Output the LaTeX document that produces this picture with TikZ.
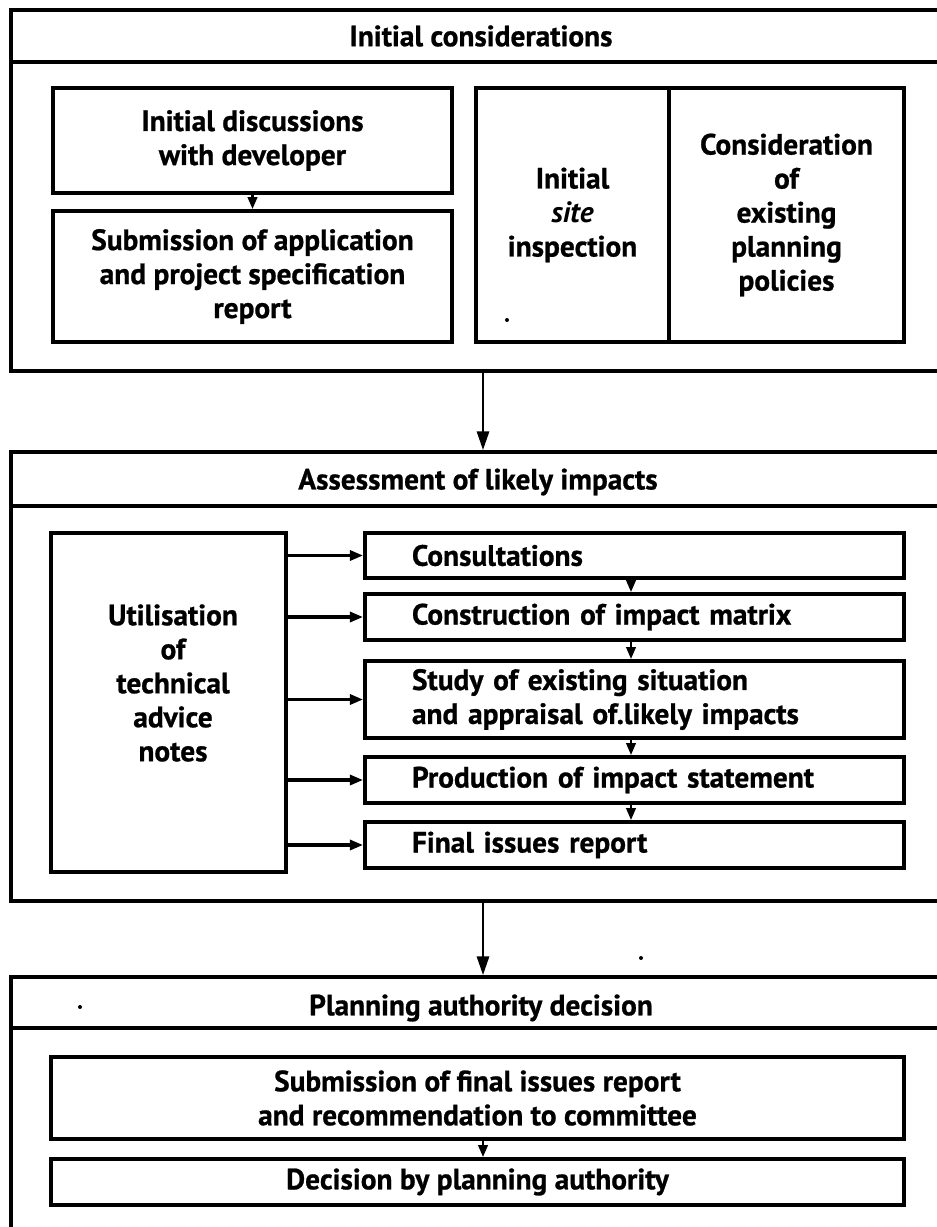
\documentclass[tikz,border=0pt]{standalone}
\usepackage{fontspec}
\setmainfont{PT Sans}[BoldFeatures={FakeBold=0.8}]
\usetikzlibrary{arrows.meta}
\begin{document}
\begin{tikzpicture}[x=0.75pt,y=-0.75pt,
  every node/.style={font=\fontsize{22}{25.5}\selectfont\bfseries},
  wh/.style 2 args={minimum width=#1*0.75pt, minimum height=#2*0.75pt},
  sect/.style={draw, line width=2.8pt, rectangle, inner sep=0pt},
  box/.style={draw, line width=2.8pt, rectangle, inner sep=0pt, align=center},
  lbl/.style={inner sep=0pt, align=center},
  rbox/.style={draw, line width=2.8pt, rectangle, inner xsep=35.25pt, inner ysep=0pt,
               text width=333.75pt, align=left, minimum height=#1*0.75pt},
  rule/.style={line width=2.8pt},
  flowarrow/.style={line width=2pt, -{Triangle[length=14pt,width=9pt]}},
  feedarrow/.style={line width=2.8pt, -{Triangle[length=10pt,width=7.5pt]}},
  joinarrow/.style={line width=2pt, -{Triangle[length=9pt,width=7pt]}},
  speck/.style={fill=black}
]
\useasboundingbox (0,0) rectangle (937,1227);
\fill[white] (0,0) rectangle (937,1227);
\clip (0,0) rectangle (937,1227);

% ---- Stage 1: initial considerations ----
\node[sect, wh={940}{361}] (S1) at (481,190.5) {};
\draw[rule] (S1.west |- 0,62) -- (S1.east |- 0,62);
\node[lbl] (S1t) at (481,36) {Initial considerations};
\node[box, wh={399}{105}] (dev) at (252.5,140.5) {Initial discussions\\with developer};
\node[box, wh={399}{131}] (sub) at (252.5,276.5) {Submission of application\\and project specification\\report};
\node[box, wh={193}{254}] (site) at (572.5,215) {Initial\\\textit{site}\\inspection};
\node[box, wh={235}{254}] (pol) at (786.5,215) {Consideration\\of\\existing\\planning\\policies};
\draw[joinarrow] (dev.south) -- (sub.north);
\fill[speck] (507,320) circle (1.5pt);

% ---- Stage 2: assessment of likely impacts ----
\node[sect, wh={940}{449}] (S2) at (481,676.5) {};
\draw[rule] (S2.west |- 0,506) -- (S2.east |- 0,506);
\node[lbl] (S2t) at (478,482) {Assessment of likely impacts};
\node[box, wh={235}{339}] (util) at (168.5,702.5) {};
\node[lbl] (utilt) at (173,683) {Utilisation\\of\\technical\\advice\\notes};
\node[rbox=45] (con) at (634.5,555.5) {Consultations};
\node[rbox=46] (mat) at (634.5,617) {Construction of impact matrix};
\node[rbox=77] (study) at (634.5,699.5) {Study of existing situation\\and appraisal of.likely impacts};
\node[rbox=46] (prod) at (634.5,780) {Production of impact statement};
\node[rbox=46] (fin) at (634.5,845) {Final issues report};
\foreach \a/\b in {con/mat, mat/study, study/prod, prod/fin}
  \draw[joinarrow] (\a.south -| 631,0) -- (\b.north -| 631,0);
\foreach \t in {con, mat, study, prod, fin}
  \draw[feedarrow] (util.east |- \t.west) -- (\t.west);

% ---- Stage 3: planning authority decision ----
\node[sect, wh={940}{283}] (S3) at (481,1118.5) {};
\draw[rule] (S3.west |- 0,1028) -- (S3.east |- 0,1028);
\node[lbl] (S3t) at (481,1008) {Planning authority decision};
\node[box, wh={853}{82}] (rec) at (477.5,1098) {Submission of final issues report\\and recommendation to committee};
\node[box, wh={853}{46}] (dec) at (477.5,1182) {Decision by planning authority};
\draw[joinarrow] (rec.south -| 483,0) -- (dec.north -| 483,0);
\fill[speck] (641,958) circle (1.5pt);
\fill[speck] (80,1007) circle (1.5pt);

% ---- links between stages ----
\draw[flowarrow] (S1.south -| 483,0) -- (S2.north -| 483,0);
\draw[flowarrow] (S2.south -| 483,0) -- (S3.north -| 483,0);
\end{tikzpicture}
\end{document}
